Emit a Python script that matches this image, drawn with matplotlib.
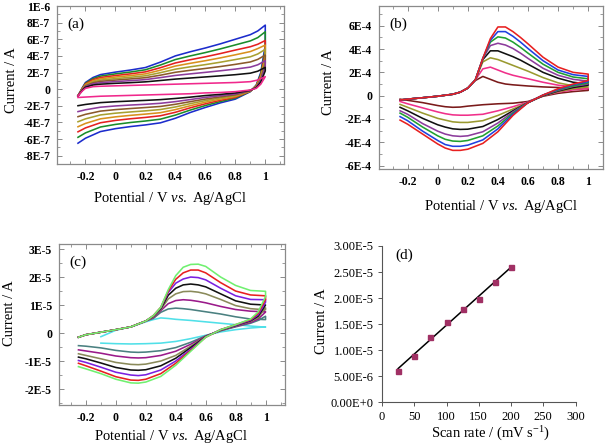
import matplotlib.pyplot as plt
import numpy as np
from matplotlib.ticker import AutoMinorLocator

plt.rcParams['font.family'] = 'Liberation Serif'
plt.rcParams['axes.unicode_minus'] = False
plt.rcParams['mathtext.fontset'] = 'custom'
plt.rcParams['mathtext.rm'] = 'Liberation Serif'
plt.rcParams['mathtext.it'] = 'Liberation Serif:italic'

# ---------------- (a) currents in units of 1E-7 A ----------------
a_e_up = [-0.25, -0.22, -0.2, -0.15, -0.1, 0, 0.1, 0.2, 0.3, 0.4, 0.5, 0.6, 0.7, 0.8, 0.9, 0.95, 1.0]
a_e_dn = [1.0, 0.97, 0.94, 0.9, 0.8, 0.7, 0.6, 0.5, 0.4, 0.3, 0.2, 0.1, 0.0, -0.1, -0.2, -0.25]
a_colors = ['#f0288c', '#111111', '#8c3c9c', '#8b5a2b', '#a8a030', '#d8901c', '#e42020', '#1a8c2a', '#1c2ccc']
a_up = [
    [-0.8, -0.2, 0.1, 0.3, 0.35, 0.4, 0.45, 0.5, 0.55, 0.6, 0.65, 0.7, 0.75, 0.8, 0.9, 1.1, 1.5],
    [-0.8, -0.13, 0.23, 0.5, 0.6, 0.7, 0.78, 0.88, 1.04, 1.21, 1.34, 1.47, 1.6, 1.74, 1.92, 2.16, 2.62],
    [-0.8, -0.08, 0.32, 0.64, 0.78, 0.91, 1.02, 1.15, 1.39, 1.65, 1.84, 2.02, 2.21, 2.41, 2.65, 2.93, 3.42],
    [-0.8, -0.03, 0.39, 0.76, 0.94, 1.09, 1.23, 1.38, 1.68, 2.03, 2.27, 2.49, 2.72, 2.98, 3.27, 3.58, 4.1],
    [-0.8, 0.01, 0.47, 0.88, 1.09, 1.27, 1.43, 1.61, 1.98, 2.4, 2.69, 2.95, 3.24, 3.56, 3.89, 4.23, 4.79],
    [-0.8, 0.06, 0.55, 1.0, 1.25, 1.46, 1.63, 1.84, 2.28, 2.78, 3.11, 3.42, 3.76, 4.13, 4.52, 4.88, 5.3],
    [-0.8, 0.1, 0.63, 1.13, 1.4, 1.64, 1.84, 2.08, 2.58, 3.15, 3.54, 3.89, 4.28, 4.7, 5.1, 5.4, 5.85],
    [-0.8, 0.15, 0.71, 1.26, 1.57, 1.84, 2.06, 2.33, 2.9, 3.56, 4.0, 4.4, 4.84, 5.32, 5.8, 6.2, 6.9],
    [-0.8, 0.2, 0.8, 1.4, 1.75, 2.05, 2.3, 2.6, 3.25, 4.0, 4.5, 4.95, 5.45, 6.0, 6.55, 7.0, 7.7],
]
a_dn = [
    [1.5, 0.6, 0.1, -0.1, -0.3, -0.4, -0.45, -0.55, -0.6, -0.65, -0.7, -0.75, -0.8, -0.85, -0.95, -1.0],
    [2.2, 0.85, 0.17, -0.14, -0.46, -0.63, -0.77, -0.96, -1.12, -1.26, -1.35, -1.43, -1.51, -1.62, -1.84, -1.99],
    [2.7, 1.03, 0.22, -0.16, -0.58, -0.79, -0.99, -1.25, -1.5, -1.7, -1.82, -1.91, -2.02, -2.17, -2.48, -2.7],
    [3.1, 1.19, 0.27, -0.18, -0.68, -0.93, -1.19, -1.5, -1.82, -2.08, -2.21, -2.33, -2.46, -2.64, -3.03, -3.31],
    [3.5, 1.34, 0.31, -0.21, -0.78, -1.06, -1.38, -1.74, -2.14, -2.45, -2.61, -2.74, -2.89, -3.1, -3.57, -3.92],
    [3.9, 1.5, 0.36, -0.23, -0.88, -1.2, -1.57, -1.99, -2.46, -2.83, -3.0, -3.15, -3.33, -3.57, -4.12, -4.52],
    [4.3, 1.65, 0.4, -0.25, -0.98, -1.34, -1.76, -2.24, -2.78, -3.2, -3.4, -3.56, -3.76, -4.04, -4.66, -5.13],
    [4.8, 1.82, 0.45, -0.27, -1.08, -1.49, -1.97, -2.51, -3.12, -3.61, -3.83, -4.01, -4.24, -4.55, -5.26, -5.79],
    [5.3, 2.0, 0.5, -0.3, -1.2, -1.65, -2.2, -2.8, -3.5, -4.05, -4.3, -4.5, -4.75, -5.1, -5.9, -6.5],
]
a_yticks = ['-8E-7', '-6E-7', '-4E-7', '-2E-7', '0', '2E-7', '4E-7', '6E-7', '8E-7', '1E-6']

# ---------------- (b) currents in units of 1E-4 A ----------------
b_e_up = [-0.25, -0.2, -0.1, 0, 0.1, 0.15, 0.2, 0.25, 0.3, 0.35, 0.4, 0.45, 0.5, 0.55, 0.6, 0.7, 0.8, 0.9, 1.0]
b_e_dn = [1.0, 0.9, 0.8, 0.7, 0.6, 0.5, 0.4, 0.3, 0.2, 0.15, 0.1, 0.05, 0, -0.1, -0.2, -0.25]
b_colors = ['#7a1a1a', '#f0308a', '#9a9a30', '#111111', '#8c3c9c', '#20a030', '#2040e0', '#e82020']
b_up = [
    [-0.38, -0.3, -0.18, -0.05, 0.12, 0.3, 0.65, 1.3, 1.65, 1.4, 1.15, 1.0, 0.93, 0.88, 0.83, 0.75, 0.7, 0.65, 0.6],
    [-0.38, -0.3, -0.18, -0.05, 0.12, 0.3, 0.65, 1.35, 2.3, 2.45, 2.2, 1.95, 1.75, 1.6, 1.45, 1.15, 0.9, 0.75, 0.65],
    [-0.38, -0.3, -0.18, -0.05, 0.12, 0.3, 0.65, 1.35, 2.9, 3.25, 3.1, 2.85, 2.6, 2.35, 2.1, 1.55, 1.1, 0.85, 0.75],
    [-0.38, -0.3, -0.18, -0.05, 0.12, 0.3, 0.65, 1.35, 3.1, 3.85, 3.85, 3.6, 3.35, 3.05, 2.7, 2.0, 1.5, 1.15, 1.0],
    [-0.38, -0.3, -0.18, -0.05, 0.12, 0.3, 0.65, 1.35, 3.2, 4.3, 4.5, 4.35, 4.05, 3.65, 3.2, 2.35, 1.75, 1.4, 1.25],
    [-0.38, -0.3, -0.18, -0.05, 0.12, 0.3, 0.65, 1.35, 3.2, 4.6, 5.05, 4.95, 4.6, 4.15, 3.65, 2.7, 2.0, 1.6, 1.45],
    [-0.38, -0.3, -0.18, -0.05, 0.12, 0.3, 0.65, 1.35, 3.2, 4.75, 5.5, 5.5, 5.1, 4.6, 4.05, 3.0, 2.2, 1.8, 1.65],
    [-0.38, -0.3, -0.18, -0.05, 0.12, 0.3, 0.65, 1.35, 3.2, 4.9, 5.9, 5.9, 5.5, 5.0, 4.45, 3.3, 2.45, 2.0, 1.85],
]
b_dn = [
    [0.45, 0.35, 0.2, -0.05, -0.5, -0.65, -0.7, -0.78, -0.9, -0.98, -1.0, -0.95, -0.85, -0.6, -0.4, -0.3],
    [0.6, 0.5, 0.3, 0.0, -0.55, -0.95, -1.3, -1.6, -1.68, -1.68, -1.65, -1.55, -1.4, -1.05, -0.7, -0.5],
    [0.75, 0.6, 0.35, 0.0, -0.6, -1.15, -1.7, -2.15, -2.3, -2.3, -2.25, -2.1, -1.95, -1.5, -1.0, -0.75],
    [0.9, 0.7, 0.4, 0.0, -0.6, -1.3, -2.05, -2.65, -2.88, -2.9, -2.85, -2.7, -2.5, -1.95, -1.3, -1.0],
    [1.0, 0.8, 0.45, 0.05, -0.6, -1.4, -2.35, -3.1, -3.45, -3.5, -3.45, -3.3, -3.05, -2.4, -1.6, -1.3],
    [1.1, 0.85, 0.5, 0.05, -0.6, -1.5, -2.6, -3.45, -3.85, -3.93, -3.9, -3.75, -3.45, -2.7, -1.85, -1.5],
    [1.2, 0.95, 0.55, 0.05, -0.6, -1.6, -2.85, -3.8, -4.25, -4.35, -4.35, -4.2, -3.85, -3.05, -2.15, -1.8],
    [1.3, 1.0, 0.6, 0.05, -0.6, -1.7, -3.1, -4.1, -4.6, -4.7, -4.7, -4.5, -4.15, -3.3, -2.45, -2.1],
]
b_yticks = ['-6E-4', '-4E-4', '-2E-4', '0', '2E-4', '4E-4', '6E-4']

# ---------------- (c) currents in units of 1E-5 A ----------------
c_e_up = [-0.25, -0.2, -0.1, 0, 0.1, 0.2, 0.25, 0.3, 0.35, 0.4, 0.45, 0.5, 0.55, 0.6, 0.7, 0.8, 0.9, 1.0]
c_e_dn = [1.0, 0.95, 0.9, 0.8, 0.7, 0.6, 0.5, 0.4, 0.3, 0.2, 0.15, 0.1, 0, -0.1, -0.2, -0.25]
c_colors = ['#4a8080', '#9a1a8a', '#8a8a5a', '#111111', '#7a20e0', '#e82020', '#70f070']
c_up = [
    [-0.15, -0.06, 0.03, 0.12, 0.22, 0.43, 0.52, 0.74, 0.86, 0.89, 0.87, 0.84, 0.8, 0.76, 0.68, 0.58, 0.5, 0.48],
    [-0.15, -0.06, 0.03, 0.12, 0.22, 0.43, 0.55, 0.8, 1.05, 1.16, 1.19, 1.17, 1.13, 1.08, 0.95, 0.84, 0.78, 0.76],
    [-0.15, -0.06, 0.03, 0.12, 0.22, 0.43, 0.58, 0.84, 1.22, 1.4, 1.48, 1.49, 1.46, 1.4, 1.2, 0.98, 0.87, 0.83],
    [-0.15, -0.06, 0.03, 0.12, 0.22, 0.43, 0.6, 0.87, 1.35, 1.6, 1.72, 1.75, 1.72, 1.65, 1.4, 1.15, 1.03, 1.0],
    [-0.15, -0.06, 0.03, 0.12, 0.22, 0.43, 0.62, 0.9, 1.45, 1.78, 1.93, 2.0, 1.98, 1.9, 1.6, 1.33, 1.2, 1.19],
    [-0.15, -0.06, 0.03, 0.12, 0.22, 0.43, 0.62, 0.92, 1.5, 1.92, 2.15, 2.25, 2.25, 2.15, 1.8, 1.5, 1.36, 1.33],
    [-0.15, -0.06, 0.03, 0.12, 0.22, 0.43, 0.62, 0.92, 1.55, 2.05, 2.35, 2.45, 2.46, 2.38, 2.0, 1.7, 1.52, 1.49],
]
c_dn = [
    [0.6, 0.45, 0.35, 0.22, 0.08, -0.1, -0.33, -0.52, -0.63, -0.68, -0.69, -0.68, -0.62, -0.53, -0.47, -0.45],
    [0.75, 0.5, 0.38, 0.24, 0.09, -0.11, -0.4, -0.65, -0.8, -0.88, -0.89, -0.88, -0.82, -0.72, -0.64, -0.6],
    [0.9, 0.55, 0.42, 0.26, 0.1, -0.12, -0.47, -0.8, -1.0, -1.11, -1.13, -1.12, -1.05, -0.92, -0.8, -0.74],
    [1.0, 0.6, 0.44, 0.27, 0.11, -0.13, -0.52, -0.9, -1.17, -1.31, -1.33, -1.32, -1.23, -1.07, -0.92, -0.86],
    [1.1, 0.65, 0.46, 0.28, 0.12, -0.14, -0.58, -1.0, -1.32, -1.49, -1.52, -1.5, -1.4, -1.22, -1.05, -0.98],
    [1.2, 0.7, 0.48, 0.3, 0.12, -0.15, -0.62, -1.08, -1.45, -1.65, -1.69, -1.68, -1.56, -1.36, -1.17, -1.08],
    [1.3, 0.75, 0.5, 0.3, 0.12, -0.15, -0.65, -1.15, -1.55, -1.75, -1.79, -1.78, -1.65, -1.45, -1.28, -1.2],
]
# smallest scan (cyan) starts at -0.1 V
c_cy_e_up = [-0.1, 0, 0.1, 0.2, 0.25, 0.3, 0.35, 0.4, 0.5, 0.6, 0.7, 0.8, 0.9, 1.0]
c_cy_up = [-0.13, 0.1, 0.22, 0.4, 0.48, 0.54, 0.52, 0.49, 0.45, 0.4, 0.35, 0.3, 0.25, 0.21]
c_cy_e_dn = [1.0, 0.9, 0.8, 0.7, 0.6, 0.5, 0.4, 0.3, 0.2, 0.1, 0, -0.1]
c_cy_dn = [0.22, 0.18, 0.12, 0.04, -0.08, -0.2, -0.3, -0.36, -0.38, -0.39, -0.38, -0.36]
c_cy_color = '#50e0e8'
c_yticks = ['-2E-5', '-1E-5', '0', '1E-5', '2E-5', '3E-5']

# ---------------- (d) peak current vs scan rate ----------------
d_rate = [25, 50, 75, 100, 125, 150, 175, 200]
d_current = [6.1e-6, 8.95e-6, 1.245e-5, 1.55e-5, 1.79e-5, 1.98e-5, 2.3e-5, 2.59e-5]
d_xticks = ['0', '50', '100', '150', '200', '250', '300']
d_yticks = ['0.00E+0', '5.00E-6', '1.00E-5', '1.50E-5', '2.00E-5', '2.50E-5', '3.00E-5']

xticks_cv = [-0.2, 0, 0.2, 0.4, 0.6, 0.8, 1.0]
xlabels_cv = ['-0.2', '0', '0.2', '0.4', '0.6', '0.8', '1']
xlabel_cv = 'Potential / V $\\mathit{vs.}\\ $Ag/AgCl'
frame_col = '#8a8a8a'
lw_cv = 1.15

fig = plt.figure(figsize=(6.11, 4.47), dpi=100)


def cv_axes(rect, xlim, ylim, yt, ylabels, unit, tag):
    ax = fig.add_axes(rect)
    ax.set_xlim(xlim)
    ax.set_ylim(ylim)
    ax.set_xticks(xticks_cv)
    ax.set_xticklabels(xlabels_cv, fontsize=8.5, fontweight='bold')
    ax.set_yticks(np.array(yt) * unit)
    ax.set_yticklabels(ylabels, fontsize=8.5, fontweight='bold')
    ax.xaxis.set_minor_locator(AutoMinorLocator(2))
    ax.yaxis.set_minor_locator(AutoMinorLocator(2))
    ax.tick_params(which='both', direction='in', top=True, right=True, color=frame_col)
    ax.tick_params(which='major', length=3.5, width=0.7, pad=5)
    ax.tick_params(which='minor', length=2, width=0.6)
    for s in ax.spines.values():
        s.set_color(frame_col)
        s.set_linewidth(0.9)
    ax.text(0.045, 0.885, tag, transform=ax.transAxes, fontsize=11, va='center')
    return ax


# (a)
ax = cv_axes([57 / 611, 1 - 164 / 447, 227 / 611, 158 / 447], (-0.39, 1.125), (-9e-7, 1.0e-6),
             [-8, -6, -4, -2, 0, 2, 4, 6, 8, 10], a_yticks, 1e-7, '(a)')
for col, up, dn in zip(a_colors[::-1], a_up[::-1], a_dn[::-1]):
    ax.plot(a_e_up + a_e_dn, np.array(up + dn) * 1e-7, color=col, lw=lw_cv)
ax.set_xlabel(xlabel_cv, fontsize=10.5, va='center')
ax.xaxis.set_label_coords(0.5, -0.22)
ax.set_ylabel('Current / A', fontsize=10.5, va='center')
ax.yaxis.set_label_coords(-0.2, 0.53)

# (b)
ax = cv_axes([379 / 611, 1 - 169 / 447, 223.5 / 611, 163 / 447], (-0.39, 1.095), (-6.3e-4, 7.7e-4),
             [-6, -4, -2, 0, 2, 4, 6], b_yticks, 1e-4, '(b)')
for col, up, dn in zip(b_colors, b_up, b_dn):
    ax.plot(b_e_up + b_e_dn, np.array(up + dn) * 1e-4, color=col, lw=lw_cv)
ax.set_xlabel(xlabel_cv, fontsize=10.5, va='center')
ax.xaxis.set_label_coords(0.546, -0.23)
ax.set_ylabel('Current / A', fontsize=10.5, va='center')
ax.yaxis.set_label_coords(-0.224, 0.53)

# (c)
ax = cv_axes([59 / 611, 1 - 405 / 447, 226 / 611, 161 / 447], (-0.38, 1.13), (-2.57e-5, 3.18e-5),
             [-2, -1, 0, 1, 2, 3], c_yticks, 1e-5, '(c)')
ax.plot(c_cy_e_up + c_cy_e_dn, np.array(c_cy_up + c_cy_dn) * 1e-5, color=c_cy_color, lw=lw_cv)
for col, up, dn in zip(c_colors, c_up, c_dn):
    ax.plot(c_e_up + c_e_dn, np.array(up + dn) * 1e-5, color=col, lw=lw_cv)
ax.set_xlabel(xlabel_cv, fontsize=10.5, va='center')
ax.xaxis.set_label_coords(0.496, -0.197)
ax.set_ylabel('Current / A', fontsize=10.5, va='center')
ax.yaxis.set_label_coords(-0.217, 0.57)

# (d)
ax = fig.add_axes([382 / 611, 1 - 402.3 / 447, 193.5 / 611, 156.3 / 447])
slope, icpt = np.polyfit(d_rate, d_current, 1)
xf = np.array([d_rate[0], d_rate[-1]])
ax.plot(xf, slope * xf + icpt, color='black', lw=1.1)
ax.plot(d_rate, d_current, 's', color='#a03064', ms=3.6, mec='#a03064')
ax.set_xlim(0, 300)
ax.set_ylim(0, 3e-5)
ax.set_xticks([0, 50, 100, 150, 200, 250, 300])
ax.set_xticklabels(d_xticks, fontsize=9)
ax.set_yticks(np.arange(7) * 5e-6)
ax.set_yticklabels(d_yticks, fontsize=9)
ax.spines['top'].set_visible(False)
ax.spines['right'].set_visible(False)
for s in ('left', 'bottom'):
    ax.spines[s].set_color('#555555')
ax.tick_params(direction='out', length=3, width=0.7, color='#555555', pad=3)
ax.text(0.07, 0.94, '(d)', transform=ax.transAxes, fontsize=11, va='center')
ax.set_xlabel('Scan rate / (mV s$^{-1}$)', fontsize=10.5, va='center')
ax.xaxis.set_label_coords(0.56, -0.2)
ax.set_ylabel('Current / A', fontsize=10.5, va='center')
ax.yaxis.set_label_coords(-0.312, 0.52)

fig.savefig('out.png', dpi=100)
